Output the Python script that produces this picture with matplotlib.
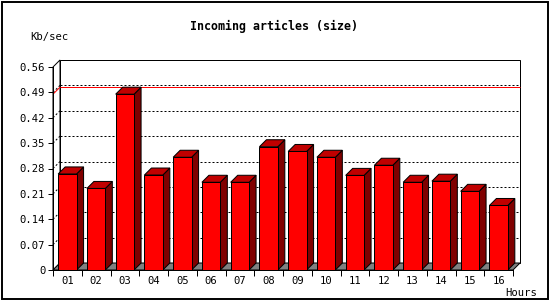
import numpy as np
import matplotlib.pyplot as plt
from matplotlib.patches import Polygon, Rectangle

# data
hours = ['01', '02', '03', '04', '05', '06', '07', '08',
         '09', '10', '11', '12', '13', '14', '15', '16']
rate = [0.265, 0.225, 0.485, 0.262, 0.311, 0.242, 0.242, 0.340,
        0.327, 0.311, 0.261, 0.289, 0.242, 0.245, 0.217, 0.178]
yticks = [0, 0.07, 0.14, 0.21, 0.28, 0.35, 0.42, 0.49, 0.56]

W, H = 550, 300
fig = plt.figure(figsize=(W / 100, H / 100), dpi=100)
ax = fig.add_axes([53 / W, 30 / H, 460 / W, 203 / H])

n = len(hours)
x0, x1 = -0.5, n - 0.5
ymax = yticks[-1]
ax.set_xlim(x0, x1)
ax.set_ylim(0, ymax)

# 3d depth, 7 px right and 7 px up, in data units
DX = 7 * (x1 - x0) / 460
DY = 7 * ymax / 203
px = 0.72  # one pixel in points
bw = 0.64

def poly(pts, fc, ec='black', z=2, lw=px):
    ax.add_patch(Polygon(pts, closed=True, facecolor=fc, edgecolor=ec,
                         linewidth=lw, zorder=z, clip_on=False))

def seg(xs, ys, **kw):
    ax.plot(xs, ys, lw=px, clip_on=False, solid_capstyle='butt', **kw)

# back wall
poly([(x0 + DX, DY), (x1 + DX, DY), (x1 + DX, ymax + DY), (x0 + DX, ymax + DY)], 'white', z=1)
# left wall
poly([(x0, 0), (x0 + DX, DY), (x0 + DX, ymax + DY), (x0, ymax)], 'white', z=1)

# grid lines on back wall and left wall
for v in yticks[1:-1]:
    seg([x0 + DX, x1 + DX], [v + DY, v + DY], color='black', ls=(0, (2, 2)), zorder=1.5)
    seg([x0, x0 + DX], [v, v + DY], color='black', ls=(0, (2, 2)), zorder=1.5)

# max line in red
m = max(rate)
seg([x0 + DX, x1 + DX], [m + DY, m + DY], color='#ff0000', zorder=1.6)
seg([x0, x0 + DX], [m, m + DY], color='#ff0000', zorder=1.6)

# floor
poly([(x0, 0), (x1, 0), (x1 + DX, DY), (x0 + DX, DY)], '#808080', z=1.8)

# bars
for i, v in enumerate(rate):
    l, r = i - bw / 2, i + bw / 2
    poly([(r, 0), (r + DX, DY), (r + DX, v + DY), (r, v)], '#800000', z=3)
    poly([(l, v), (r, v), (r + DX, v + DY), (l + DX, v + DY)], '#c00000', z=3)
    poly([(l, 0), (r, 0), (r, v), (l, v)], '#ff0000', z=3.1)

# axes
for s in ['top', 'right']:
    ax.spines[s].set_visible(False)
for s in ['left', 'bottom']:
    ax.spines[s].set_linewidth(px)
    ax.spines[s].set_zorder(4)
ax.patch.set_visible(False)

mono = 'DejaVu Sans Mono'
ax.set_yticks(yticks)
ax.set_yticklabels(['0' if t == 0 else f'{t:.2f}' for t in yticks],
                   family=mono, fontsize=7.6)
ax.tick_params(axis='y', length=3.5, width=px, pad=2)

ax.set_xticks(np.arange(x0, x1 + 0.01, 1.0))
ax.set_xticklabels([])
ax.tick_params(axis='x', which='major', length=4, width=px)
ax.set_xticks(np.arange(n), minor=True)
ax.set_xticklabels(hours, minor=True, family=mono, fontsize=7.6)
ax.tick_params(axis='x', which='minor', length=0, pad=4.5)

fig.text(274 / W, 1 - 26.5 / H, 'Incoming articles (size)', family=mono,
         fontsize=8.4, fontweight='bold', ha='center', va='center')
fig.text(30 / W, 1 - 37 / H, 'Kb/sec', family=mono, fontsize=7.6,
         ha='left', va='center')
fig.text(505 / W, 1 - 293 / H, 'Hours', family=mono, fontsize=7.6,
         ha='left', va='center')

# outer border
fig.patches.append(Rectangle((1.5 / W, 1.5 / H), 546.5 / W, 296.5 / H,
                             transform=fig.transFigure, fill=False,
                             edgecolor='black', linewidth=1.4))

fig.savefig('out.png', dpi=100)
